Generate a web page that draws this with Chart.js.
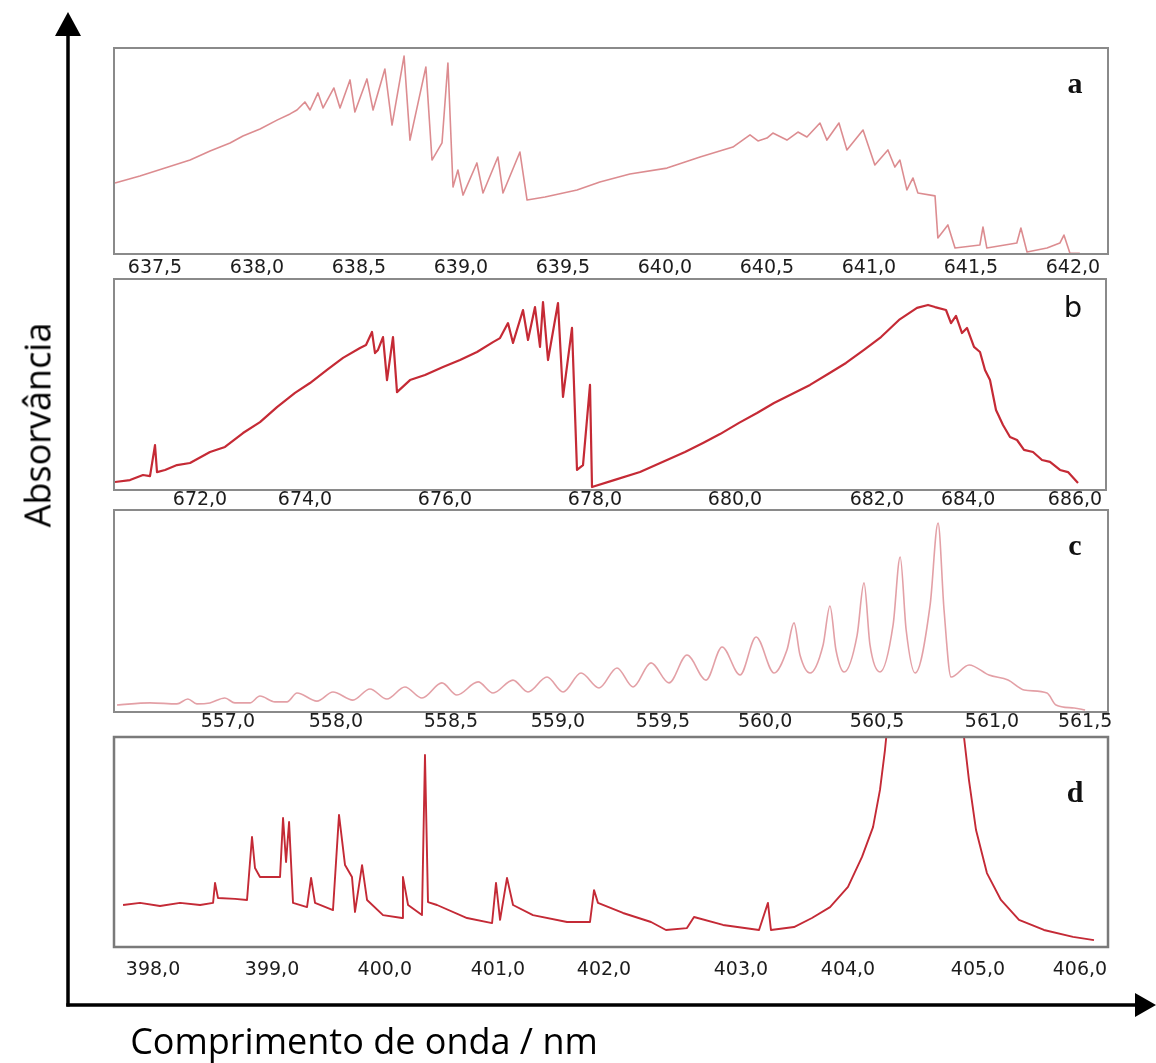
<!DOCTYPE html>
<html lang="pt">
<head>
<meta charset="UTF-8">
<title>Espectros de absorção</title>
<script src="https://cdn.jsdelivr.net/npm/chart.js@4.4.1/dist/chart.umd.min.js"></script>
<style>
  html, body { margin: 0; padding: 0; background: #fff; }
  #wrap { position: relative; width: 1156px; height: 1063px; overflow: hidden; }
  #wrap canvas, #wrap svg { position: absolute; left: 0; top: 0; }
  .title { position: absolute; font-family: "Open Sans", sans-serif; font-size: 36px; color: #000; white-space: nowrap; }
  #ytitle { left: 37px; top: 425px; transform: translate(-50%, -50%) rotate(-90deg); }
  #xtitle { left: 364px; top: 1040px; transform: translate(-50%, -50%); }
</style>
</head>
<body>
<div id="wrap">
  <svg width="1156" height="1063">
    <line x1="68" y1="1006.5" x2="68" y2="30" stroke="#000" stroke-width="3.5"/>
    <polygon points="68,12 55,36 81,36" fill="#000"/>
    <line x1="66.3" y1="1005" x2="1140" y2="1005" stroke="#000" stroke-width="3.5"/>
    <polygon points="1156,1005 1135,993 1135,1017" fill="#000"/>
  </svg>
  <canvas id="pa" width="1156" height="1063"></canvas>
  <canvas id="pb" width="1156" height="1063"></canvas>
  <canvas id="pc" width="1156" height="1063"></canvas>
  <canvas id="pd" width="1156" height="1063"></canvas>
  <div class="title" id="ytitle">Absorvância</div>
  <div class="title" id="xtitle">Comprimento de onda / nm</div>
</div>

<script>
  // (a) 637-642 nm
  const aNm = [637.304, 637.426, 637.549, 637.672, 637.770, 637.868, 637.931, 638.015, 638.098, 638.162,
    638.196, 638.235, 638.260, 638.299, 638.324, 638.377, 638.407, 638.456, 638.480, 638.539,
    638.569, 638.627, 638.662, 638.721, 638.750, 638.828, 638.858, 638.907, 638.936, 638.961,
    638.985, 639.010, 639.078, 639.108, 639.181, 639.206, 639.289, 639.324, 639.412, 639.569,
    639.681, 639.828, 640.010, 640.172, 640.333, 640.417, 640.456, 640.500, 640.529, 640.598,
    640.652, 640.696, 640.760, 640.794, 640.853, 640.892, 640.971, 641.029, 641.093, 641.127,
    641.152, 641.186, 641.216, 641.240, 641.324, 641.338, 641.387, 641.422, 641.544, 641.559,
    641.578, 641.725, 641.745, 641.775, 641.873, 641.936, 641.956, 641.985, 642.034];
  const aAbs = [34.5, 37.9, 41.7, 45.6, 50.0, 53.9, 57.3, 60.7, 65.0, 68.0,
    69.9, 73.8, 69.9, 78.2, 70.9, 80.6, 70.9, 84.5, 68.9, 85.0,
    69.9, 89.8, 62.6, 96.1, 55.3, 90.8, 45.6, 53.9, 92.7, 32.5,
    40.8, 28.6, 44.2, 29.6, 47.1, 29.6, 49.5, 26.2, 27.7, 31.1,
    35.0, 38.8, 41.7, 47.1, 51.9, 57.8, 54.9, 56.3, 58.7, 55.3,
    59.2, 56.8, 63.6, 55.3, 63.6, 50.5, 60.2, 43.2, 50.5, 42.2,
    45.6, 31.1, 36.9, 29.6, 28.2, 7.8, 14.1, 2.9, 4.4, 13.1,
    2.9, 5.3, 12.6, 1.0, 2.9, 5.3, 9.2, 0.5, 0.3];
  const aTickPos = [637.5, 638.0, 638.5, 639.0, 639.5, 640.0, 640.5, 641.0, 641.5, 642.0];
  const aTickText = ['637,5', '638,0', '638,5', '639,0', '639,5', '640,0', '640,5', '641,0', '641,5', '642,0'];

  // (b) 671-686 nm
  const bNm = [670.640, 670.880, 671.088, 671.200, 671.280, 671.312, 671.440, 671.632, 671.840, 672.160,
    672.400, 672.688, 672.960, 673.232, 673.520, 673.760, 674.032, 674.288, 674.560, 674.656,
    674.752, 674.800, 674.848, 674.928, 674.992, 675.088, 675.152, 675.360, 675.600, 675.888,
    676.160, 676.432, 676.688, 676.800, 676.928, 677.008, 677.168, 677.248, 677.360, 677.440,
    677.488, 677.568, 677.728, 677.808, 677.952, 678.032, 678.128, 678.240, 678.272, 678.624,
    679.040, 679.472, 679.760, 680.048, 680.320, 680.624, 680.912, 681.184, 681.472, 681.760,
    682.048, 682.336, 682.624, 682.896, 683.184, 683.472, 683.648, 683.760, 683.936, 684.016,
    684.096, 684.192, 684.272, 684.384, 684.480, 684.560, 684.640, 684.736, 684.848, 684.960,
    685.072, 685.184, 685.328, 685.472, 685.600, 685.760, 685.888, 686.048];
  const bAbs = [3.8, 4.7, 7.1, 6.6, 21.3, 8.5, 9.5, 11.8, 12.8, 18.0,
    20.4, 27.0, 32.2, 39.3, 46.0, 50.7, 56.9, 62.6, 67.3, 68.7,
    74.9, 64.9, 66.4, 72.5, 52.1, 72.5, 46.4, 52.1, 54.5, 58.3,
    61.6, 65.4, 70.1, 72.0, 79.1, 69.7, 85.3, 71.1, 86.7, 67.8,
    89.1, 61.6, 88.6, 44.1, 76.8, 9.5, 11.8, 49.8, 1.4, 4.7,
    8.5, 14.2, 18.0, 22.3, 26.5, 31.8, 36.5, 41.2, 45.5, 49.8,
    55.0, 60.2, 66.4, 72.5, 80.6, 86.3, 87.7, 86.7, 85.3, 79.1,
    82.5, 74.4, 76.8, 67.8, 65.4, 56.9, 52.1, 37.9, 30.8, 25.1,
    23.7, 19.0, 18.0, 14.2, 13.3, 9.5, 8.5, 3.3];
  const bTickPos = [672.0, 673.68, 675.92, 678.32, 680.56, 682.83, 684.29, 686.0];
  const bTickText = ['672,0', '674,0', '676,0', '678,0', '680,0', '682,0', '684,0', '686,0'];

  // (c) 557-561.5 nm
  const cNm = [556.977, 557.131, 557.257, 557.308, 557.350, 557.411, 557.481, 557.528, 557.598, 557.645,
    557.715, 557.771, 557.818, 557.911, 557.986, 558.079, 558.159, 558.238, 558.322, 558.402,
    558.495, 558.565, 558.664, 558.734, 558.827, 558.897, 558.986, 559.061, 559.145, 559.229,
    559.313, 559.388, 559.472, 559.556, 559.640, 559.729, 559.804, 559.888, 559.963, 560.047,
    560.107, 560.140, 560.168, 560.215, 560.276, 560.308, 560.336, 560.374, 560.435, 560.467,
    560.495, 560.542, 560.603, 560.636, 560.664, 560.706, 560.776, 560.813, 560.841, 560.874,
    560.958, 561.051, 561.140, 561.215, 561.322, 561.364, 561.449, 561.500];
  const cAbs = [3.5, 4.5, 4.0, 6.4, 4.0, 4.5, 6.9, 4.5, 4.5, 7.9,
    5.0, 5.0, 9.4, 5.4, 9.9, 5.9, 11.4, 6.4, 12.4, 6.9,
    14.4, 8.4, 14.9, 9.4, 15.8, 9.9, 17.3, 9.9, 19.3, 11.9,
    21.8, 12.4, 24.3, 14.4, 28.2, 15.8, 32.2, 18.3, 37.1, 19.3,
    30.7, 44.1, 28.2, 19.3, 33.2, 52.5, 30.7, 19.8, 38.1, 63.9,
    33.2, 19.8, 43.1, 76.7, 40.6, 19.3, 53.0, 93.6, 50.5, 17.3,
    23.3, 18.3, 15.8, 10.9, 9.4, 3.5, 2.0, 1.0];
  const cTickPos = [557.495, 558.0, 558.537, 559.037, 559.528, 560.005, 560.528, 561.065, 561.5];
  const cTickText = ['557,0', '558,0', '558,5', '559,0', '559,5', '560,0', '560,5', '561,0', '561,5'];

  // (d) 398-406 nm, the line near 404.7 nm runs far above the frame
  const dNm = [397.741, 397.888, 398.060, 398.233, 398.406, 398.518, 398.535, 398.561, 398.708, 398.811,
    398.854, 398.880, 398.923, 399.096, 399.122, 399.148, 399.174, 399.208, 399.329, 399.364,
    399.398, 399.553, 399.605, 399.657, 399.717, 399.743, 399.804, 399.847, 399.985, 400.149,
    400.157, 400.201, 400.321, 400.347, 400.373, 400.451, 400.710, 400.926, 400.960, 400.995,
    401.055, 401.107, 401.279, 401.573, 401.771, 401.806, 401.840, 402.056, 402.298, 402.427,
    402.608, 402.669, 402.919, 403.230, 403.307, 403.333, 403.532, 403.687, 403.843, 403.998,
    404.119, 404.214, 404.274, 404.317, 404.360, 404.671, 404.982, 404.999, 405.042, 405.103,
    405.197, 405.318, 405.474, 405.689, 405.940, 406.121];
  const dAbs = [20.0, 21.0, 19.5, 21.0, 20.0, 21.0, 30.5, 23.3, 22.9, 22.4,
    52.4, 37.6, 33.3, 33.3, 61.4, 40.5, 59.5, 21.0, 19.0, 32.9,
    21.0, 17.6, 62.9, 39.0, 33.3, 16.7, 39.0, 22.4, 15.2, 13.8,
    33.3, 20.0, 15.2, 91.4, 21.4, 20.0, 13.8, 11.4, 30.5, 12.9,
    32.9, 20.0, 15.2, 11.9, 11.9, 27.1, 21.0, 16.2, 11.9, 8.1,
    9.0, 14.3, 10.5, 8.1, 21.0, 8.1, 9.5, 13.8, 19.0, 28.6,
    42.9, 57.1, 74.8, 93.8, 117.6, 400, 117.6, 100, 79.5, 55.7,
    35.2, 22.4, 12.9, 8.1, 4.8, 3.3];
  const dTickPos = [398.0, 399.027, 400.0, 400.977, 401.892, 403.074, 403.998, 405.12, 406.0];
  const dTickText = ['398,0', '399,0', '400,0', '401,0', '402,0', '403,0', '404,0', '405,0', '406,0'];

  // frame, tick labels and panel letter
  const panelFrame = {
    id: 'panelFrame',
    afterDatasetsDraw(chart, args, o) {
      const { ctx, chartArea: area } = chart;
      const x = chart.scales.x;
      ctx.save();
      ctx.strokeStyle = o.frameColor;
      ctx.lineWidth = o.frameWidth;
      ctx.strokeRect(area.left, area.top, area.right - area.left, area.bottom - area.top);
      ctx.fillStyle = '#1c1c1c';
      ctx.font = '19px "DejaVu Sans"';
      ctx.textAlign = 'center';
      ctx.textBaseline = 'middle';
      o.tickPos.forEach((v, i) => {
        ctx.fillText(o.tickText[i], x.getPixelForValue(v), area.bottom + o.labelGap);
      });
      ctx.font = o.letterFont;
      ctx.fillStyle = '#111';
      ctx.fillText(o.letter, area.right - 33, area.top + o.letterDy);
      ctx.restore();
    }
  };

  function toPoints(xs, ys) {
    return xs.map((v, i) => ({ x: v, y: ys[i] }));
  }

  function panel(id, xs, ys, color, width, box, xmin, xmax, frame, smooth) {
    return new Chart(document.getElementById(id), {
      type: 'line',
      data: {
        datasets: [{
          data: toPoints(xs, ys),
          borderColor: color,
          borderWidth: width,
          borderJoinStyle: 'round',
          pointRadius: 0,
          tension: 0,
          cubicInterpolationMode: smooth ? 'monotone' : 'default'
        }]
      },
      options: {
        responsive: false,
        animation: false,
        events: [],
        layout: {
          padding: { left: box.left, right: 1156 - box.right, top: box.top, bottom: 1063 - box.bottom }
        },
        scales: {
          x: { type: 'linear', min: xmin, max: xmax, display: false },
          y: { min: 0, max: 100, display: false }
        },
        plugins: {
          legend: { display: false },
          tooltip: { enabled: false },
          panelFrame: frame
        }
      },
      plugins: [panelFrame]
    });
  }

  const serif = 'bold 30px "Liberation Serif"';

  panel('pa', aNm, aAbs, 'rgba(214,120,125,0.85)', 1.6,
    { left: 114, right: 1108, top: 48, bottom: 254 }, 637.299, 642.172,
    { frameColor: '#8a8a8a', frameWidth: 2, tickPos: aTickPos, tickText: aTickText, labelGap: 14,
      letter: 'a', letterFont: serif, letterDy: 37 }, false);

  panel('pb', bNm, bAbs, '#c52a35', 2.2,
    { left: 114, right: 1106, top: 279, bottom: 490 }, 670.624, 686.496,
    { frameColor: '#8a8a8a', frameWidth: 2, tickPos: bTickPos, tickText: bTickText, labelGap: 10,
      letter: 'b', letterFont: '29px "DejaVu Sans"', letterDy: 30 }, false);

  // the rotational band in (c) is drawn with rounded valleys
  panel('pc', cNm, cAbs, 'rgba(224,150,156,0.9)', 1.6,
    { left: 114, right: 1108, top: 510, bottom: 712 }, 556.963, 561.607,
    { frameColor: '#8a8a8a', frameWidth: 2, tickPos: cTickPos, tickText: cTickText, labelGap: 10,
      letter: 'c', letterFont: serif, letterDy: 37 }, true);

  panel('pd', dNm, dAbs, '#c42a36', 1.9,
    { left: 114, right: 1108, top: 737, bottom: 947 }, 397.663, 406.242,
    { frameColor: '#7a7a7a', frameWidth: 2.5, tickPos: dTickPos, tickText: dTickText, labelGap: 23,
      letter: 'd', letterFont: serif, letterDy: 57 }, false);
</script>
</body>
</html>
